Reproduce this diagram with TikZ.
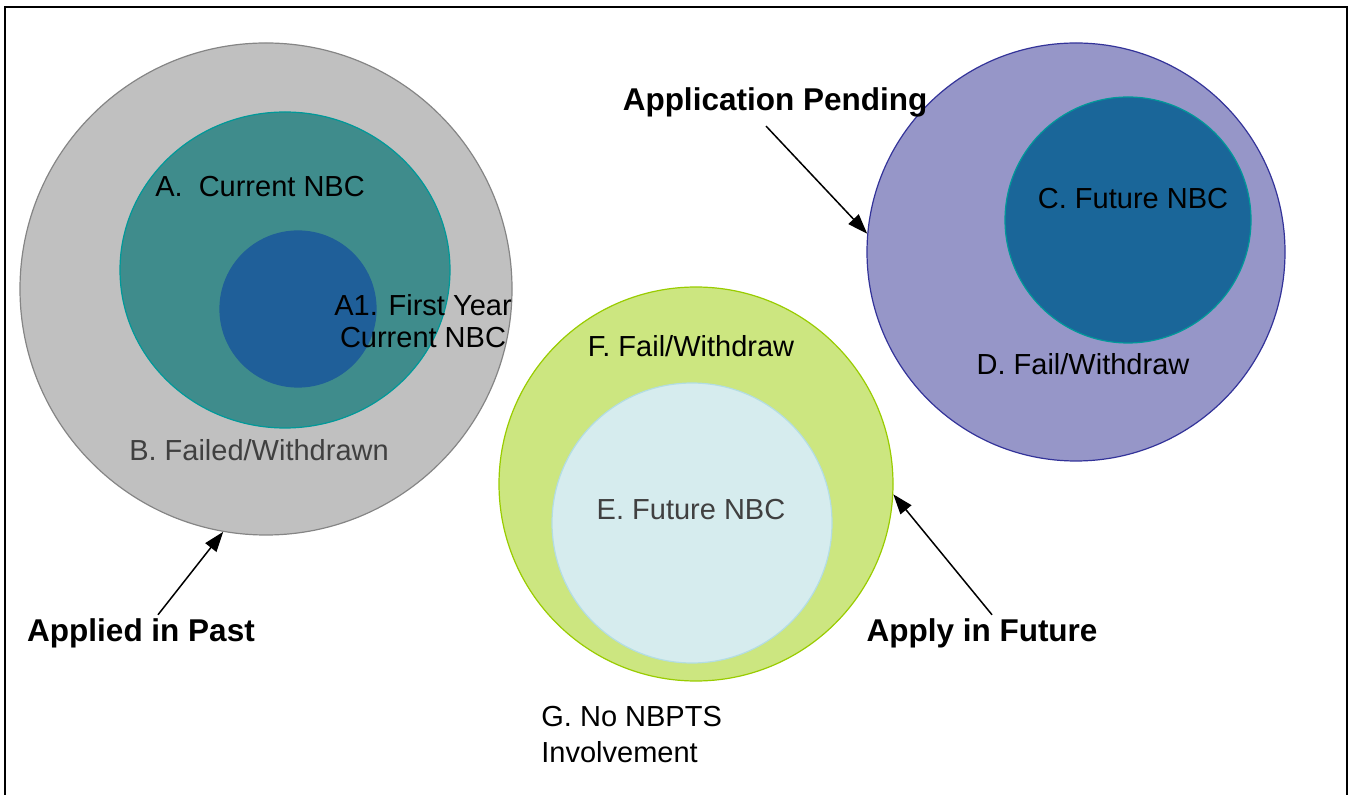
\documentclass[tikz,border=0pt]{standalone}
\usepackage{fontspec}
\setmainfont{Liberation Sans}
\usepackage{xcolor}
\usepackage{tikz}
\usetikzlibrary{arrows.meta}
\usetikzlibrary{shapes.geometric}
\definecolor{pastgray}{HTML}{C0C0C0}
\definecolor{pastrim}{HTML}{858585}
\definecolor{nbcteal}{HTML}{3F8C8C}
\definecolor{nbcrim}{HTML}{009999}
\definecolor{firstblue}{HTML}{1F5F99}
\definecolor{pendnavy}{HTML}{9696C8}
\definecolor{navyrim}{HTML}{333399}
\definecolor{futblue}{HTML}{1A6699}
\definecolor{futgreen}{HTML}{CCE680}
\definecolor{greenrim}{HTML}{99CC00}
\definecolor{futcyan}{HTML}{D6ECEE}
\definecolor{cyanrim}{HTML}{B3DDE3}

\begin{document}
\begin{tikzpicture}[x=0.5pt, y=0.5pt,
        set/.style={circle, inner sep=0pt, line width=0.6pt},
        lab/.style={inner sep=0pt, anchor=base, font=\fontsize{14.5}{16}\selectfont},
        tag/.style={inner sep=0pt, anchor=base, font=\fontsize{15.75}{19}\selectfont\bfseries},
        arr/.style={-{Triangle[length=10pt, width=7pt]}, line width=0.75pt}]
        \useasboundingbox (0,0) rectangle (1353,-795);
        \draw[line width=1.1pt] (5,-795) -- (5,-7) -- (1347,-7) -- (1347,-795);
        \node[set, draw=pastrim, fill=pastgray, minimum size=246pt] (B) at (266,-289) {};
        \node[ellipse, inner sep=0pt, line width=0.6pt, draw=nbcrim, fill=nbcteal, minimum width=165pt, minimum height=158pt] (A) at (285,-270) {};
        \node[set, draw=firstblue, fill=firstblue, minimum size=78pt] (A1) at (298,-309) {};
        \node[set, draw=navyrim, fill=pendnavy, minimum size=209pt] (D) at (1076,-252) {};
        \node[set, draw=nbcrim, fill=futblue, minimum size=123pt] (C) at (1128,-220) {};
        \node[set, draw=greenrim, fill=futgreen, minimum size=197pt] (F) at (696,-484) {};
        \node[set, draw=cyanrim, fill=futcyan, minimum size=140pt] (E) at (692,-523) {};
        \node[lab] (txtA) at (260,-197) {A.\ \ Current NBC};
        \node[lab, align=center] (txtA1) at (423,-348) {A1. First Year\\Current NBC};
        \node[lab, text=black!75] (txtB) at (259,-461) {B. Failed/Withdrawn};
        \node[lab] (txtC) at (1133,-209) {C. Future NBC};
        \node[lab] (txtD) at (1083,-375) {D. Fail/Withdraw};
        \node[lab] (txtF) at (691,-357) {F. Fail/Withdraw};
        \node[lab, text=black!75] (txtE) at (691,-520) {E. Future NBC};
        \node[lab, align=left, anchor=base west, font=\fontsize{14.5}{18}\selectfont] (txtG) at (541,-762) {G. No NBPTS\\Involvement};
        \node[tag] (past) at (141,-641) {Applied in Past};
        \node[tag] (pend) at (775,-111) {Application Pending};
        \node[tag] (fut) at (982,-641) {Apply in Future};
        \draw[arr] ([xshift=8.5pt, yshift=1.5pt]past.north) -- (B.260);
        \draw[arr] ([xshift=-4.5pt, yshift=-4pt]pend.south) -- (D.175);
        \draw[arr] ([xshift=5pt, yshift=1.5pt]fut.north) -- (F.-3);
    \end{tikzpicture}
\end{document}
